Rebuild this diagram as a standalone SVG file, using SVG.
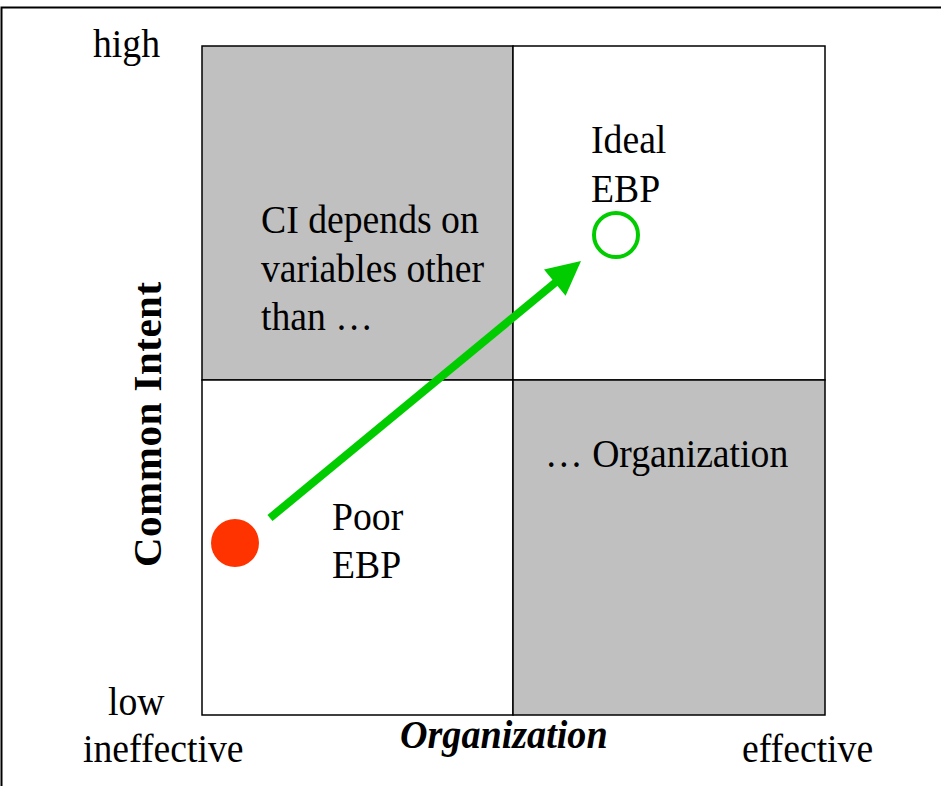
<svg xmlns="http://www.w3.org/2000/svg" width="941" height="786" viewBox="0 0 941 786">
<rect width="941" height="786" fill="#FFFFFF"/>
<path d="M1.5,800 L1.5,7.5 L945,7.5" fill="none" stroke="#000" stroke-width="2"/>
<g id="quadrants" stroke="#000" stroke-width="1.5">
<rect id="q-tl" fill="#C0C0C0" x="202" y="46" width="311" height="334"/>
<rect id="q-tr" fill="#FFFFFF" x="513" y="46" width="312" height="334"/>
<rect id="q-bl" fill="#FFFFFF" x="202" y="380" width="311" height="335"/>
<rect id="q-br" fill="#C0C0C0" x="513" y="380" width="312" height="335"/>
</g>
<g id="axis-labels">
<text font-family="Liberation Serif" font-size="41" transform="translate(93,57) scale(0.92,1)">high</text>
<text font-family="Liberation Serif" font-size="41" transform="translate(108,715) scale(0.92,1)">low</text>
<text font-family="Liberation Serif" font-size="41" transform="translate(83,762) scale(0.92,1)">ineffective</text>
<text font-family="Liberation Serif" font-size="41" transform="translate(742,762) scale(0.92,1)">effective</text>
<text font-family="Liberation Serif" font-size="41" transform="translate(400,748) scale(0.93,1)" font-weight="bold" font-style="italic">Organization</text>
<text font-family="Liberation Serif" font-size="41" transform="translate(161,567) rotate(-90)" font-weight="bold" letter-spacing="0.5">Common Intent</text>
</g>
<g id="label-ci">
<text font-family="Liberation Serif" font-size="41" transform="translate(261,233) scale(0.92,1)">CI depends on</text>
<text font-family="Liberation Serif" font-size="41" transform="translate(261,282) scale(0.92,1)">variables other</text>
<text font-family="Liberation Serif" font-size="41" transform="translate(261,330) scale(0.92,1)">than …</text>
</g>
<g id="label-org">
<text font-family="Liberation Serif" font-size="41" transform="translate(545,467) scale(0.92,1)">… Organization</text>
</g>
<g id="node-ideal">
<text font-family="Liberation Serif" font-size="41" transform="translate(591,153) scale(0.92,1)">Ideal</text>
<text font-family="Liberation Serif" font-size="41" transform="translate(591,202) scale(0.92,1)">EBP</text>
<circle cx="616" cy="235" r="22" fill="none" stroke="#00CC00" stroke-width="4"/>
</g>
<g id="node-poor">
<text font-family="Liberation Serif" font-size="41" transform="translate(332,530) scale(0.92,1)">Poor</text>
<text font-family="Liberation Serif" font-size="41" transform="translate(332,578) scale(0.92,1)">EBP</text>
<circle cx="235" cy="543" r="24" fill="#FF3300"/>
</g>
<g id="connectors">
<line x1="270" y1="518" x2="556" y2="282" stroke="#00CC00" stroke-width="8"/>
<polygon points="581,261 565.6,295.8 544,269.6" fill="#00CC00"/>
</g>
</svg>
